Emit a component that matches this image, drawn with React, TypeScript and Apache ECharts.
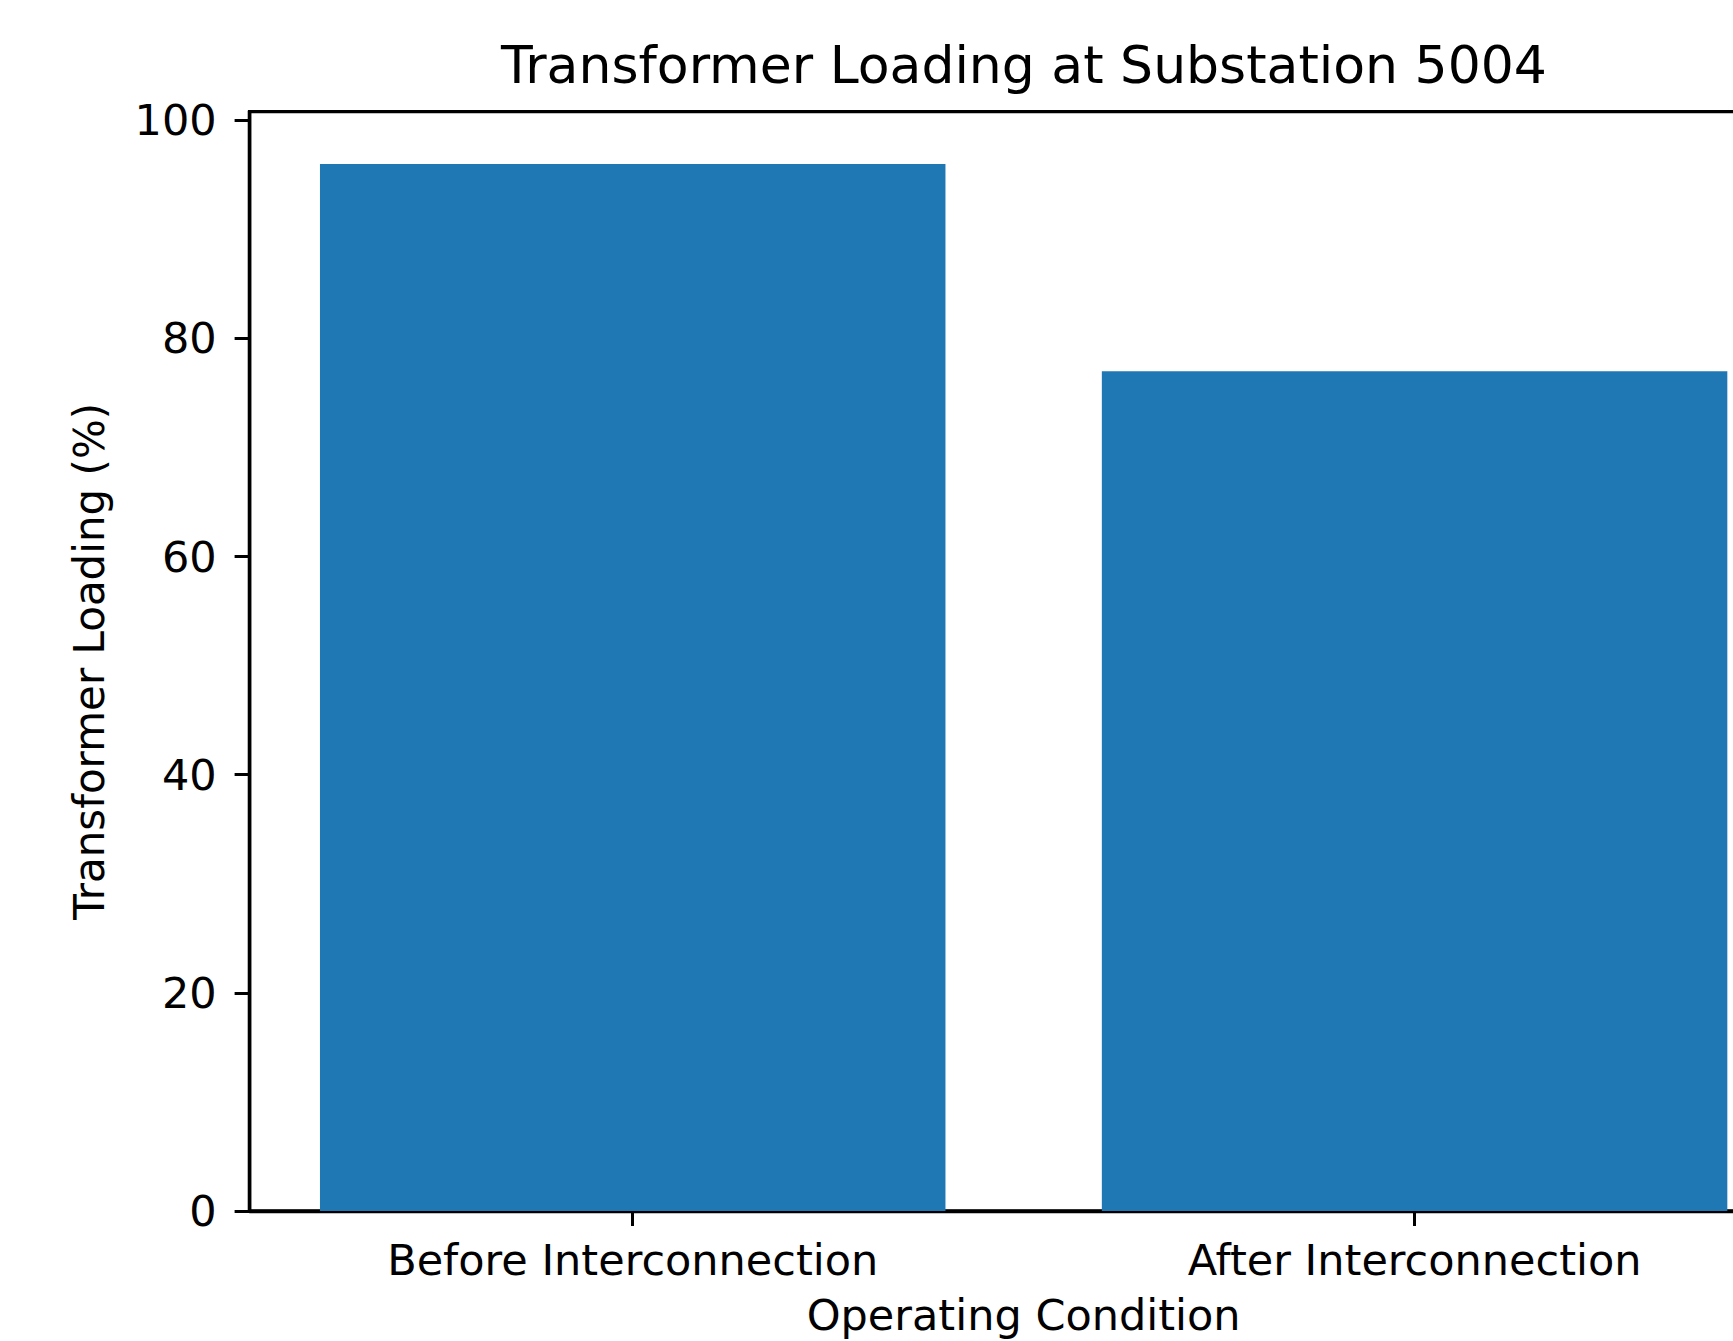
import React, { useEffect, useRef } from "react";
import * as echarts from "echarts";

const TITLE = "Transformer Loading at Substation 5004";
const X_NAME = "Operating Condition";
const Y_NAME = "Transformer Loading (%)";
const categories = ["Before Interconnection", "After Interconnection"];
const loading = [96, 77];
const xTicks = [0, 1];
const yTicks = [0, 20, 40, 60, 80, 100];

const FONT = "DejaVu Sans";
const CHART_W = 2048;
const CHART_H = 1341;
const GRID_LEFT = 249.6;
const GRID_TOP = 111.6;
const GRID_W = 1548.1;
const GRID_H = 1100.8;
const X_MIN = -0.49;
const X_MAX = 1.49;
const Y_MAX = 100.8;

export default function App() {
  const ref = useRef<HTMLDivElement>(null);
  useEffect(() => {
    if (!ref.current) return;
    const chart = echarts.init(ref.current, undefined, { renderer: "svg" });
    const barWidth = (0.8 * GRID_W) / (X_MAX - X_MIN);
    chart.setOption({
      animation: false,
      backgroundColor: "#ffffff",
      title: {
        text: TITLE,
        left: "center",
        top: 39,
        padding: 0,
        textStyle: { fontFamily: FONT, fontSize: 52, fontWeight: "normal", color: "#000" },
      },
      grid: {
        left: GRID_LEFT,
        top: GRID_TOP,
        width: GRID_W,
        height: GRID_H,
        show: true,
        borderColor: "#000",
        borderWidth: 3.4,
        containLabel: false,
      },
      xAxis: {
        type: "value",
        min: X_MIN,
        max: X_MAX,
        name: X_NAME,
        nameLocation: "middle",
        nameGap: 82,
        nameTextStyle: { fontFamily: FONT, fontSize: 43, color: "#000" },
        axisLine: { show: true, onZero: false, lineStyle: { color: "#000", width: 3.4 } },
        axisTick: { show: true, length: 15, customValues: xTicks, lineStyle: { color: "#000", width: 3 } },
        axisLabel: {
          show: true,
          customValues: xTicks,
          margin: 27,
          fontFamily: FONT,
          fontSize: 43,
          color: "#000",
          formatter: (v: number) => categories[Math.round(v)] ?? "",
        },
        splitLine: { show: false },
      },
      yAxis: {
        type: "value",
        min: 0,
        max: Y_MAX,
        name: Y_NAME,
        nameLocation: "middle",
        nameGap: 139,
        nameTextStyle: { fontFamily: FONT, fontSize: 42, color: "#000" },
        axisLine: { show: true, onZero: false, lineStyle: { color: "#000", width: 3.4 } },
        axisTick: { show: true, length: 15, customValues: yTicks, lineStyle: { color: "#000", width: 3 } },
        axisLabel: {
          show: true,
          customValues: yTicks,
          margin: 33,
          fontFamily: FONT,
          fontSize: 43,
          color: "#000",
        },
        splitLine: { show: false },
      },
      series: [
        {
          type: "bar",
          data: loading.map((v, i) => [xTicks[i], v]),
          barWidth,
          itemStyle: { color: "#1f77b4" },
        },
      ],
    });
    return () => chart.dispose();
  }, []);
  return (
    <div style={{ position: "fixed", left: 0, top: 0, width: 1733, height: 1341, overflow: "hidden", background: "#fff" }}>
      <div ref={ref} style={{ width: CHART_W, height: CHART_H }} />
    </div>
  );
}
